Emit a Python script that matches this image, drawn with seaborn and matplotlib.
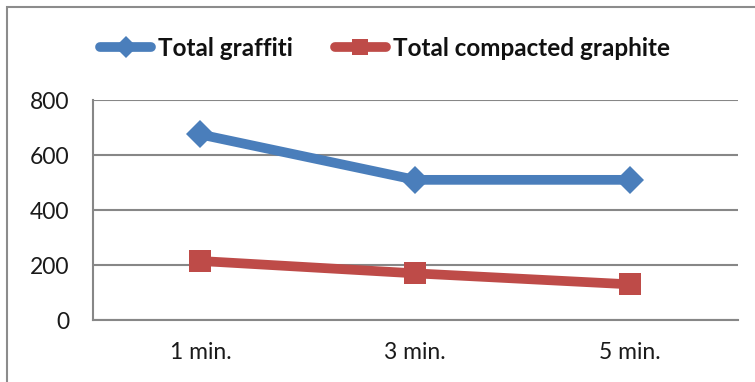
import matplotlib
matplotlib.use("Agg")
import matplotlib.pyplot as plt
import seaborn as sns
import pandas as pd
from matplotlib.patches import Rectangle
from matplotlib.lines import Line2D

categories = ["1 min.", "3 min.", "5 min."]
total_graffiti = [675, 510, 510]
total_compacted = [215, 170, 130]
series_names = ["Total graffiti", "Total compacted graphite"]
y_ticks = [0, 200, 400, 600, 800]

rows = []
for i, c in enumerate(categories):
    rows.append({"pos": i, "value": total_graffiti[i], "series": series_names[0]})
    rows.append({"pos": i, "value": total_compacted[i], "series": series_names[1]})
df = pd.DataFrame(rows)

sns.set_theme(style="white")
plt.rcParams['font.family'] = ['Lato', 'DejaVu Sans']

fig = plt.figure(figsize=(7.55, 3.82), dpi=100)
ax = fig.add_axes([0.123, 0.162, 0.854, 0.576])

palette = {series_names[0]: "#4A7EBB", series_names[1]: "#BE4B48"}
markers = {series_names[0]: "D", series_names[1]: "s"}
sns.lineplot(data=df, x="pos", y="value", hue="series", style="series",
             palette=palette, markers=markers, dashes=False, linewidth=7,
             markersize=14, markeredgewidth=0, ax=ax, legend=False, zorder=3)
for line in ax.lines:
    line.set_solid_capstyle("round")
    if line.get_marker() == "s":
        line.set_markersize(16)

ax.set_xlim(-0.5, 2.5)
ax.set_ylim(0, 800)
ax.set_yticks(y_ticks)
ax.set_yticklabels([str(v) for v in y_ticks], fontsize=16.5, color="#1a1a1a")
ax.set_xticks(range(len(categories)))
ax.set_xticklabels(categories, fontsize=16.5, color="#1a1a1a")
ax.tick_params(axis="x", length=0, pad=16)
ax.set_xticks([-0.5, 0.5, 1.5, 2.5], minor=True)
ax.tick_params(axis="x", which="minor", length=6, width=1.5, color="#878787", direction="out")
ax.tick_params(axis="y", length=5, width=1.5, color="#878787", direction="out", pad=12)
ax.yaxis.grid(True, color="#878787", linewidth=1.5)
ax.set_axisbelow(True)
ax.set_xlabel("")
ax.set_ylabel("")
for s in ["top", "right"]:
    ax.spines[s].set_visible(False)
for s in ["left", "bottom"]:
    ax.spines[s].set_color("#878787")
    ax.spines[s].set_linewidth(1.5)

handles = [Line2D([0], [0], color=palette[n], marker=markers[n], linewidth=7,
                  markersize=11, markeredgewidth=0, solid_capstyle="round") for n in series_names]
leg = fig.legend(handles, series_names, loc="center left", bbox_to_anchor=(100/755, 1 - 48/382),
                 ncol=2, frameon=False, handlelength=2.1, handletextpad=0.3,
                 columnspacing=1.7, borderpad=0, borderaxespad=0,
                 prop={"weight": "bold", "size": 17.5})
for t in leg.get_texts():
    t.set_color("#111111")

fig.patches.append(Rectangle((7/755, -0.1), 2, 1 - 7/382 + 0.1, transform=fig.transFigure,
                             fill=False, edgecolor="#8C8C8C", linewidth=1.5))

fig.savefig("out.png", dpi=100)
